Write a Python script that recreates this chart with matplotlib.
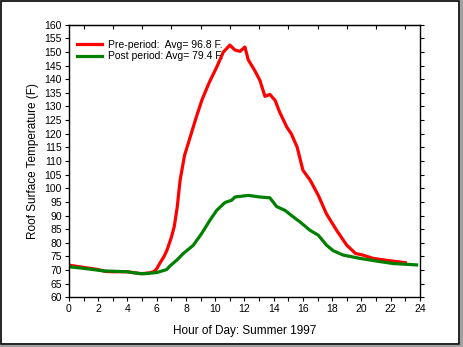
import matplotlib
matplotlib.use('Agg')
import matplotlib.pyplot as plt
from matplotlib.patches import Rectangle

plt.rcParams['font.family'] = ['Liberation Sans', 'DejaVu Sans']

# hourly roof surface temperature, deg F
pre_hours = [0, 0.5, 1.0, 1.5, 2.0, 2.5, 3.0, 3.5, 4.0, 4.5, 5.0, 5.5, 5.8, 6.0,
             6.2, 6.5, 6.7, 7.0, 7.2, 7.4, 7.6, 7.9, 8.3, 8.7, 9.1, 9.6, 10.1,
             10.55, 11.0, 11.35, 11.7, 12.03, 12.26, 12.7, 13.06, 13.4, 13.74, 14.1,
             14.4, 14.9, 15.2, 15.6, 16.0, 16.5, 17.05, 17.6, 18.3, 19.0, 19.6, 20.1,
             20.8, 21.7, 22.6, 23.0]
pre_temp = [71.8, 71.4, 71.0, 70.6, 70.2, 69.5, 69.4, 69.4, 69.4, 69.0, 68.7, 69.0,
            69.4, 70.5, 72.4, 75.0, 77.3, 82.0, 86.0, 93.0, 103.0, 112.0, 119.0,
            126.0, 132.5, 138.9, 144.4, 149.9, 152.5, 150.7, 150.2, 151.8, 147.1, 143.2,
            139.5, 133.7, 134.4, 132.2, 128.0, 122.4, 120.0, 115.1, 106.6, 102.9, 97.4,
            90.7, 84.6, 79.1, 76.1, 75.5, 74.3, 73.6, 73.0, 72.7]

post_hours = [0, 0.75, 1.66, 2.35, 3.0, 3.94, 4.85, 5.2, 6.0, 6.68, 6.9, 7.36, 7.82,
              8.16, 8.5, 9.07, 9.64, 10.1, 10.67, 11.12, 11.35, 12.26, 13.06, 13.74,
              14.2, 14.77, 15.34, 15.79, 16.48, 17.05, 17.62, 18.07, 18.76, 19.9,
              21.04, 22.18, 23.2, 23.77]
post_temp = [71.2, 70.8, 70.2, 69.7, 69.6, 69.4, 68.7, 68.7, 69.1, 70.2, 71.5, 73.6,
             76.1, 77.6, 79.1, 83.4, 88.3, 91.9, 94.8, 95.6, 96.8, 97.4, 96.8, 96.5,
             93.3, 91.9, 89.5, 87.7, 84.6, 82.8, 79.1, 77.1, 75.5, 74.3, 73.3, 72.4,
             72.1, 71.9]

pre_label = 'Pre-period:  Avg= 96.8 F.'
post_label = 'Post period: Avg= 79.4 F.'

fig = plt.figure(figsize=(4.63, 3.47), dpi=100)
ax = fig.add_axes([0.149, 0.143, 0.758, 0.786])

ax.plot(pre_hours, pre_temp, color='#ff0000', lw=2.3, label=pre_label)
ax.plot(post_hours, post_temp, color='#008000', lw=2.3, label=post_label)

ax.set_xlim(0, 24)
ax.set_ylim(60, 160)
ax.set_xticks(range(0, 25, 2))
ax.set_xticks(range(0, 25), minor=True)
ax.set_yticks(range(60, 161, 5))
ax.tick_params(axis='both', direction='out', length=3, width=0.8, labelsize=7.5,
               pad=2, colors='black')
ax.tick_params(axis='x', which='minor', direction='out', length=3, width=0.8)
ax.tick_params(axis='y', right=True, which='major')
for s in ax.spines.values():
    s.set_linewidth(1.0)

# odd-hour ticks along the top edge
top = ax.secondary_xaxis('top')
top.set_xticks(range(1, 24, 2))
top.tick_params(direction='in', length=3, width=0.8, labeltop=False)

ax.set_xlabel('Hour of Day: Summer 1997', fontsize=8.5, labelpad=8)
ax.set_ylabel('Roof Surface Temperature (F)', fontsize=8.5, labelpad=4)

ax.legend(loc='upper left', frameon=False, fontsize=7.5, handlelength=2.4,
          handletextpad=0.5, labelspacing=0.15, borderaxespad=0.4,
          bbox_to_anchor=(0.0, 0.975))

# page frame with a grey drop edge
fig.patches.append(Rectangle((0.994, 0.0), 0.006, 1.0, transform=fig.transFigure,
                             facecolor='#a0a0a0', edgecolor='none'))
fig.patches.append(Rectangle((0.0, 0.0), 1.0, 0.006, transform=fig.transFigure,
                             facecolor='#a0a0a0', edgecolor='none'))
fig.patches.append(Rectangle((0.002, 0.008), 0.990, 0.989, transform=fig.transFigure,
                             facecolor='none', edgecolor='black', lw=1.2))

fig.savefig('out.png', dpi=100)
plt.close(fig)
